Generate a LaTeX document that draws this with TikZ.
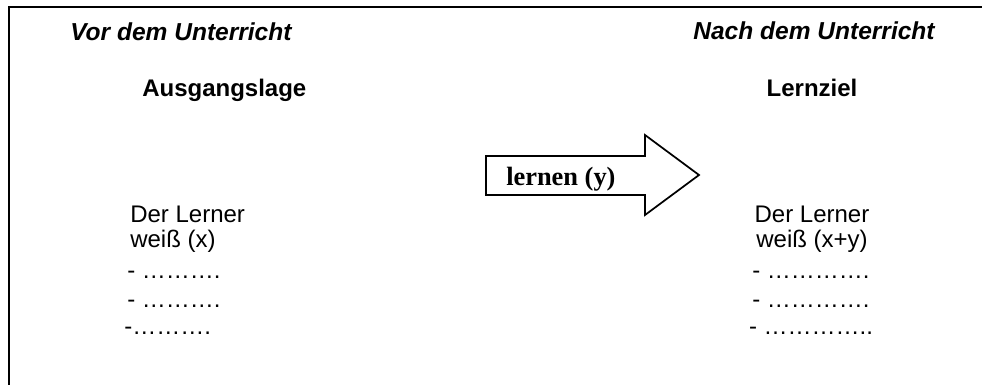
\documentclass[tikz,border=0pt]{standalone}
\usepackage{fontspec}
\setmainfont{Liberation Sans}
\newfontfamily\tms{Liberation Serif}
\newcommand{\grss}{\fontsize{18}{22}\selectfont}

\begin{document}
\begin{tikzpicture}[x=0.75pt,y=-0.75pt,
   txt/.style={anchor=base west,inner sep=0pt,font=\grss},
   mid/.style={anchor=base,inner sep=0pt,font=\grss}]
   \useasboundingbox (0,0) rectangle (982,385);
   \draw[line width=1.2pt] (982,7) -- (9,7) -- (9,385);
   % Kopfzeilen
   \node[txt,font=\fontsize{18.4}{22}\selectfont\bfseries\itshape] (vor) at (70,41) {Vor dem Unterricht};
   \node[mid,font=\fontsize{18.4}{22}\selectfont\bfseries\itshape] (nach) at (814,40) {Nach dem Unterricht};
   \node[txt,font=\grss\bfseries] (ausg) at (142,97) {Ausgangslage};
   \node[mid,font=\grss\bfseries] (ziel) at (812,97) {Lernziel};
   % Pfeil
   \draw[line width=1.3pt,fill=white] (486,156) -- (645,156) -- (645,135) -- (699,175)
     -- (645,215) -- (645,195) -- (486,195) -- cycle;
   \node[txt,font=\fontsize{19.8}{22}\selectfont\tms\bfseries] (lern) at (506,185) {lernen (y)};
   % links
   \node[txt] (la) at (130,222) {Der Lerner};
   \node[txt] (lb) at (130,247) {weiß (x)};
   \node[txt] (lc) at (127,278) {- ……….};
   \node[txt] (ld) at (127,307) {- ……….};
   \node[txt] (le) at (124,334) {-……….};
   % rechts
   \node[mid] (ra) at (812,222) {Der Lerner};
   \node[mid] (rb) at (812,247) {weiß (x+y)};
   \node[mid] (rc) at (811,278) {- ………….};
   \node[mid] (rd) at (811,307) {- ………….};
   \node[mid] (re) at (811,334) {- …………..};
\end{tikzpicture}
\end{document}
